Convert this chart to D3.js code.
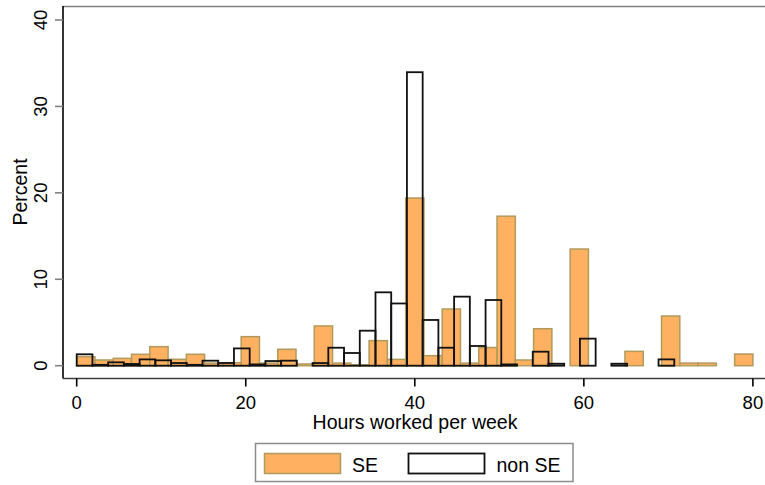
<!DOCTYPE html>
<html>
<head>
<meta charset="utf-8">
<script src="https://cdn.jsdelivr.net/npm/d3@7"></script>
<style>
  body { margin: 0; background: #fff; }
  text { font-family: "Liberation Sans", Arial, sans-serif; }
</style>
</head>
<body>
<div id="chart"></div>
<script>
// percent per bin
// SE: 37 equal bins over 0-80 hours
const seValues = [1.04, 0.66, 0.85, 1.32, 2.2, 0.74, 1.32, 0.3, 0.35, 3.36,
  0.3, 1.9, 0.2, 4.6, 0.3, 0.1, 2.9, 0.73, 19.4, 1.16,
  6.56, 0.3, 2.1, 17.3, 0.66, 4.28, 0, 13.5, 0, 0,
  1.66, 0, 5.75, 0.3, 0.3, 0, 1.35];
// non SE: 43 equal bins over 0-80 hours
const nonSeValues = [1.32, 0.1, 0.39, 0.2, 0.73, 0.62, 0.31, 0.1, 0.58, 0.31,
  2.0, 0.15, 0.54, 0.58, 0, 0.31, 2.08, 1.47, 4.05, 8.49,
  7.2, 33.96, 5.29, 2.08, 7.99, 2.28, 7.6, 0.15, 0, 1.62,
  0.23, 0, 3.13, 0, 0.23, 0, 0, 0.73, 0, 0,
  0, 0, 0];
const xTicks = [0, 20, 40, 60, 80];
const yTicks = [0, 10, 20, 30, 40];
const legendLabels = ["SE", "non SE"];

const width = 765;
const height = 485;
const seFill = "#ffb061";
const seStroke = "#b09a5c";
const tickSize = 18.5;
const titleSize = 19.5;

const svg = d3.select("#chart").append("svg")
  .attr("width", width)
  .attr("height", height);

const x = d3.scaleLinear().domain([0, 80]).range([76.7, 752.9]);
const y = d3.scaleLinear().domain([0, 40]).range([365.7, 20]);

// turn bin heights into bins with edges
function makeBins(values) {
  const w = 80 / values.length;
  return values.map((v, i) => ({ x0: i * w, x1: (i + 1) * w, value: v }));
}
const seBins = makeBins(seValues);
const nonSeBins = makeBins(nonSeValues);

// plot region top border
svg.append("line")
  .attr("x1", 63).attr("x2", width)
  .attr("y1", 6.5).attr("y2", 6.5)
  .attr("stroke", "#808080").attr("stroke-width", 1.6);

// SE bars
svg.append("g").selectAll("rect")
  .data(seBins)
  .join("rect")
  .attr("x", d => x(d.x0))
  .attr("width", d => x(d.x1) - x(d.x0))
  .attr("y", d => y(d.value))
  .attr("height", d => y(0) - y(d.value))
  .attr("fill", seFill)
  .attr("stroke", seStroke)
  .attr("stroke-width", 1.5);

// non SE bars, outline only
svg.append("g").selectAll("rect")
  .data(nonSeBins)
  .join("rect")
  .attr("x", d => x(d.x0))
  .attr("width", d => x(d.x1) - x(d.x0))
  .attr("y", d => y(d.value))
  .attr("height", d => y(0) - y(d.value))
  .attr("fill", "none")
  .attr("stroke", "#111")
  .attr("stroke-width", 1.8);

// y axis
const yAxis = svg.append("g").attr("transform", "translate(63,0)");
yAxis.append("line")
  .attr("x1", 0).attr("x2", 0)
  .attr("y1", 6).attr("y2", 378.5)
  .attr("stroke", "#000").attr("stroke-width", 1.6);
yTicks.forEach(t => {
  yAxis.append("line")
    .attr("x1", -8).attr("x2", 0)
    .attr("y1", y(t)).attr("y2", y(t))
    .attr("stroke", "#808080").attr("stroke-width", 1.6);
  yAxis.append("text")
    .attr("transform", `translate(-16.5,${y(t)}) rotate(-90)`)
    .attr("text-anchor", "middle")
    .attr("font-size", tickSize)
    .text(t);
});
svg.append("text")
  .attr("transform", `translate(26.5,192) rotate(-90)`)
  .attr("text-anchor", "middle")
  .attr("font-size", titleSize)
  .text("Percent");

// x axis
const xAxis = svg.append("g").attr("transform", "translate(0,378.5)");
xAxis.append("line")
  .attr("x1", 63).attr("x2", width)
  .attr("y1", 0).attr("y2", 0)
  .attr("stroke", "#404040").attr("stroke-width", 1.6);
xTicks.forEach(t => {
  xAxis.append("line")
    .attr("x1", x(t)).attr("x2", x(t))
    .attr("y1", 0).attr("y2", 8)
    .attr("stroke", "#000").attr("stroke-width", 1.6);
  xAxis.append("text")
    .attr("x", x(t)).attr("y", 30)
    .attr("text-anchor", "middle")
    .attr("font-size", tickSize)
    .text(t);
});
svg.append("text")
  .attr("x", 415).attr("y", 428.5)
  .attr("text-anchor", "middle")
  .attr("font-size", titleSize)
  .text("Hours worked per week");

// legend
const legend = svg.append("g");
legend.append("rect")
  .attr("x", 255.5).attr("y", 443.5)
  .attr("width", 317.5).attr("height", 38)
  .attr("fill", "#fff")
  .attr("stroke", "#8c8c8c").attr("stroke-width", 1.5);
legend.append("rect")
  .attr("x", 264.5).attr("y", 453.5)
  .attr("width", 76).attr("height", 20)
  .attr("fill", seFill)
  .attr("stroke", seStroke).attr("stroke-width", 1.5);
legend.append("text")
  .attr("x", 352).attr("y", 471.5)
  .attr("font-size", titleSize)
  .text(legendLabels[0]);
legend.append("rect")
  .attr("x", 408.5).attr("y", 453.5)
  .attr("width", 76).attr("height", 20)
  .attr("fill", "none")
  .attr("stroke", "#111").attr("stroke-width", 1.8);
legend.append("text")
  .attr("x", 496.5).attr("y", 471.5)
  .attr("font-size", titleSize)
  .text(legendLabels[1]);
</script>
</body>
</html>
